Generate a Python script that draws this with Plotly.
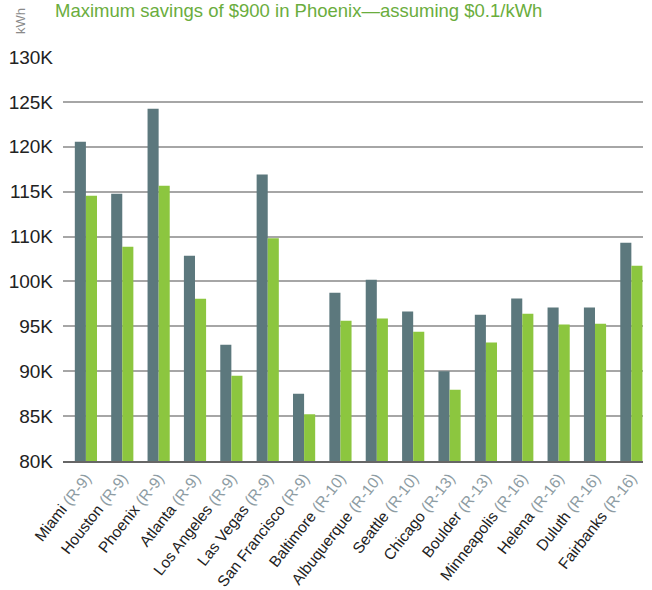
import plotly.graph_objects as go

cities = ["Miami", "Houston", "Phoenix", "Atlanta", "Los Angeles", "Las Vegas",
          "San Francisco", "Baltimore", "Albuquerque", "Seattle", "Chicago",
          "Boulder", "Minneapolis", "Helena", "Duluth", "Fairbanks"]
zones = ["R-9", "R-9", "R-9", "R-9", "R-9", "R-9", "R-9", "R-10", "R-10", "R-10",
         "R-13", "R-13", "R-16", "R-16", "R-16", "R-16"]

# kWh
baseline_kwh = [120570, 114780, 124240, 107870, 97960, 116900, 92500, 103750,
                105200, 101640, 95000, 101300, 103100, 102100, 102100, 109300]
improved_kwh = [114550, 108870, 115670, 103080, 94500, 109800, 90200, 100630,
                100860, 99410, 92950, 98200, 101400, 100200, 100300, 106760]

tick_vals = [85000, 90000, 95000, 100000, 105000, 110000, 115000, 120000, 125000, 130000]
tick_text = ["80K", "85K", "90K", "95K", "100K", "110K", "115K", "120K", "125K", "130K"]

title_text = "Maximum savings of $900 in Phoenix\u2014assuming $0.1/kWh"

labels = [f"{c} <span style='color:#8d9ca3'>({z})</span>" for c, z in zip(cities, zones)]
xs = list(range(len(cities)))

FONT = "Liberation Sans Narrow, Arial Narrow, Liberation Sans, Arial, sans-serif"

fig = go.Figure()
fig.add_trace(go.Bar(x=xs, y=baseline_kwh, marker=dict(color="#5c787d", line=dict(width=0)),
                     name="baseline"))
fig.add_trace(go.Bar(x=xs, y=improved_kwh, marker=dict(color="#8cc63f", line=dict(width=0)),
                     name="improved"))

fig.update_layout(
    width=652, height=590,
    margin=dict(l=63, r=9, t=57, b=129),
    paper_bgcolor="white", plot_bgcolor="white",
    barmode="group", bargap=0.39, bargroupgap=0,
    showlegend=False,
    font=dict(family=FONT, color="#222222"),
    xaxis=dict(
        tickmode="array", tickvals=xs, ticktext=labels,
        tickangle=-52, tickfont=dict(size=15.5, color="#222222"),
        range=[-0.63, 15.32], showgrid=False,
        showline=True, linecolor="#666666", linewidth=2,
        ticks="", fixedrange=True, automargin=False,
    ),
    yaxis=dict(
        range=[85000, 130000], tickmode="array", tickvals=tick_vals, ticktext=tick_text,
        tickfont=dict(size=19, color="#222222"),
        showgrid=True, gridcolor="#a6a6a6", gridwidth=1.5,
        zeroline=False, showline=False, ticks="", ticklabelstandoff=9,
        automargin=False,
    ),
    annotations=[
        dict(text=title_text, xref="paper", yref="paper", x=-0.015, y=(461 + 1) / 404,
             xanchor="left", yanchor="top", showarrow=False, borderpad=0,
             font=dict(size=18.5, color="#6aad3d", family=FONT)),
        dict(text="kWh", xref="paper", yref="paper", x=(21 - 63) / 580, y=(461 - 21) / 404,
             xanchor="center", yanchor="middle", textangle=-90, showarrow=False,
             font=dict(size=13, color="#8a8a8a", family=FONT)),
    ],
)

fig.write_html("out.html", config={"displayModeBar": False},
               post_script="document.body.style.margin='0';document.body.style.padding='0';")
